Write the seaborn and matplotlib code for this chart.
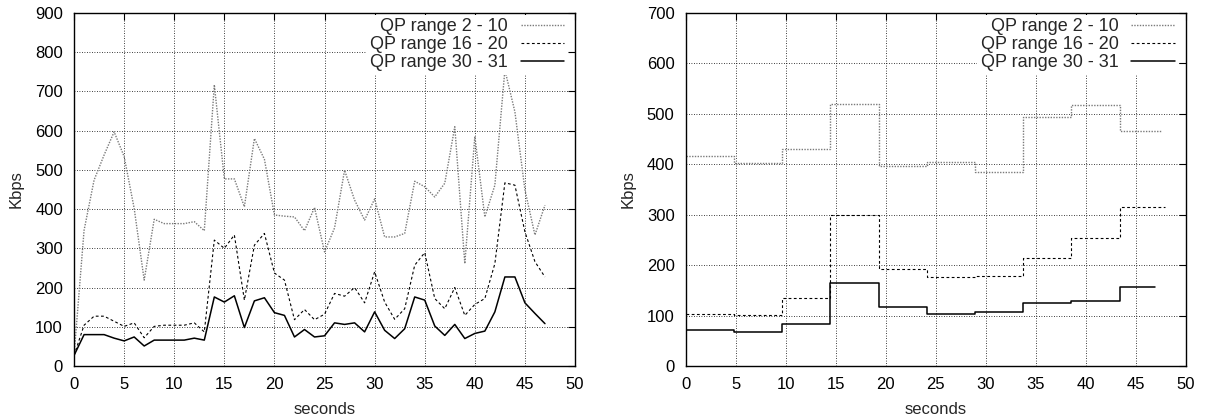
import seaborn as sns
import matplotlib.pyplot as plt

# Per-second bitrate (Kbps), left panel
seconds = list(range(48))
qp_2_10 = [27, 346, 474, 538, 597, 534, 402, 219, 374, 363, 363, 363, 368, 345, 717, 477,
           477, 406, 580, 527, 385, 382, 380, 345, 404, 291, 352, 499, 423, 372, 426, 329,
           329, 338, 471, 457, 431, 466, 610, 261, 585, 380, 461, 755, 648, 449, 334, 410]
qp_16_20 = [27, 104, 127, 127, 114, 101, 110, 72, 101, 104, 104, 104, 110, 87, 321, 300,
            334, 168, 308, 338, 237, 219, 118, 144, 118, 132, 185, 178, 200, 161, 240, 163,
            119, 146, 257, 289, 172, 146, 200, 129, 157, 172, 261, 467, 461, 342, 266, 227]
qp_30_31 = [27, 80, 80, 80, 71, 64, 74, 51, 66, 66, 66, 66, 71, 66, 176, 163,
            179, 98, 166, 174, 136, 129, 74, 93, 74, 77, 110, 106, 110, 87, 138, 91,
            70, 95, 176, 168, 102, 78, 106, 70, 83, 89, 138, 227, 227, 161, 134, 108]

# Windowed averages (Kbps), right panel
step_t = [0, 4.8, 9.6, 14.4, 19.3, 24.1, 28.9, 33.7, 38.5, 43.4]
step_end = [47.6, 47.9, 46.9]
avg_2_10 = [417, 403, 430, 519, 397, 405, 384, 493, 518, 465]
avg_16_20 = [103, 101, 134, 299, 193, 177, 178, 215, 253, 316]
avg_30_31 = [71, 68, 84, 164, 116, 104, 107, 125, 128, 156]

labels = ["QP range 2 - 10", "QP range 16 - 20", "QP range 30 - 31"]
styles = [dict(color="#7a7a7a", linestyle=(0, (1, 1)), linewidth=1.0),
          dict(color="black", linestyle=(0, (2.5, 2.2)), linewidth=0.8),
          dict(color="black", linestyle="-", linewidth=1.1)]

sns.set_theme(style="white")
plt.rcParams["font.family"] = ["Liberation Sans", "DejaVu Sans"]
plt.rcParams["font.size"] = 12

fig = plt.figure(figsize=(12.06, 4.19), dpi=100)
ax1 = fig.add_axes([0.0614, 0.1265, 0.4154, 0.8425])
ax2 = fig.add_axes([0.5686, 0.1265, 0.4146, 0.8425])

for vals, lab, st in zip([qp_2_10, qp_16_20, qp_30_31], labels, styles):
    sns.lineplot(x=seconds, y=vals, ax=ax1, label=lab, **st)

for vals, end, lab, st in zip([avg_2_10, avg_16_20, avg_30_31], step_end, labels, styles):
    xs = step_t + [end]
    ys = vals + [vals[-1]]
    sns.lineplot(x=xs, y=ys, ax=ax2, label=lab, drawstyle="steps-post", **st)

for ax, ymax in [(ax1, 900), (ax2, 700)]:
    ax.set_xlim(0, 50)
    ax.set_ylim(0, ymax)
    ax.set_xticks(range(0, 51, 5))
    ax.set_yticks(range(0, ymax + 1, 100))
    ax.grid(True, color="black", linestyle=(0, (1, 2)), linewidth=0.6)
    ax.tick_params(direction="in", length=5, width=0.8, top=True, right=True,
                   labelsize=12, colors="black", pad=8)
    for sp in ax.spines.values():
        sp.set_color("black")
        sp.set_linewidth(1.0)
    ax.set_xlabel("seconds", fontsize=12, labelpad=7)
    ax.set_ylabel("Kbps", fontsize=12, labelpad=8)
    leg = ax.legend(loc="upper right", bbox_to_anchor=(0.985, 0.995), markerfirst=False,
                    frameon=True, fancybox=False, edgecolor="none", facecolor="white",
                    framealpha=1, fontsize=13, handlelength=2.4, handletextpad=0.7,
                    labelspacing=0.05, borderpad=0.2, borderaxespad=0)

fig.savefig("out.png", dpi=100)
